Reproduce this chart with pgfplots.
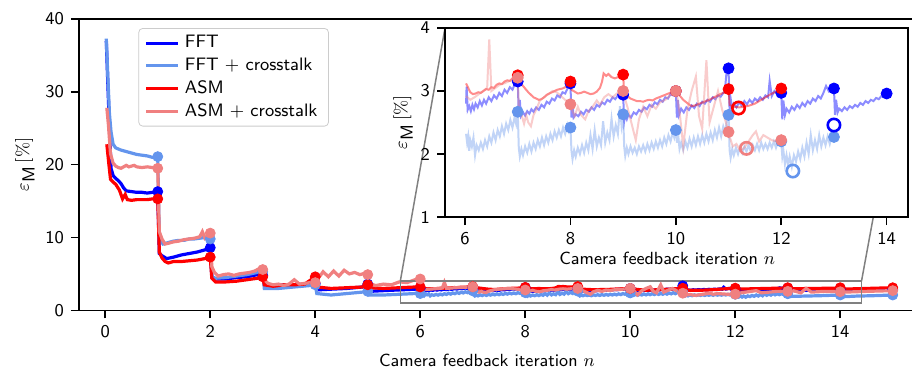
\documentclass[border=0pt]{standalone}
\usepackage{fontspec}
\usepackage{pgfplots}
\usepackage{pgfplotstable}
\pgfplotsset{compat=1.18}
\renewcommand{\familydefault}{\sfdefault}
\definecolor{fftc}{HTML}{0000FF}
\definecolor{fftx}{HTML}{6495ED}
\definecolor{asmc}{HTML}{FF0000}
\definecolor{asmx}{HTML}{F08080}

% ---------- line data ----------
\pgfplotstableread[row sep=\\]{x y\\
0.02 37.0\\ 0.05 31\\ 0.08 25\\ 0.11 19.5\\ 0.15 18.5\\ 0.2 18.1\\ 0.25 17.8\\ 0.3 17.4\\ 0.35 16.8\\ 0.4 16.4\\ 0.5 16.3\\ 0.6 16.2\\ 0.7 16.2\\ 0.8 16.1\\ 0.9 16.2\\ 1.0 16.3\\
1.03 7.8\\ 1.08 7.5\\ 1.17 7.1\\ 1.3 7.3\\ 1.45 7.6\\ 1.6 7.8\\ 1.75 8.0\\ 1.9 8.3\\ 2.0 8.6\\
2.03 4.6\\ 2.1 4.3\\ 2.3 4.3\\ 2.5 4.5\\ 2.7 4.6\\ 2.9 4.9\\ 3.0 4.8\\
3.03 3.5\\ 3.2 3.4\\ 3.4 3.5\\ 3.6 3.5\\ 3.8 3.6\\ 4.0 3.7\\
4.03 2.8\\ 4.3 2.9\\ 4.6 3.0\\ 4.9 3.2\\ 5.0 3.6\\
5.03 2.6\\ 5.3 2.7\\ 5.6 2.8\\ 5.9 2.9\\ 6.0 3.0\\
6.02 2.80\\ 6.03 3.07\\ 6.05 2.70\\ 6.08 2.76\\ 6.11 2.68\\ 6.14 2.78\\ 6.17 2.71\\ 6.2 2.80\\ 6.24 2.74\\ 6.28 2.84\\ 6.32 2.77\\ 6.36 2.86\\ 6.4 2.80\\ 6.45 2.90\\ 6.5 2.84\\ 6.55 2.93\\ 6.6 2.88\\ 6.65 2.97\\ 6.7 2.92\\ 6.75 3.02\\ 6.8 2.97\\ 6.85 3.06\\ 6.9 3.02\\ 6.95 3.12\\ 7.0 3.15\\
7.02 2.62\\ 7.04 2.86\\ 7.06 2.60\\ 7.1 2.66\\ 7.14 2.61\\ 7.18 2.68\\ 7.22 2.64\\ 7.26 2.71\\ 7.3 2.67\\ 7.35 2.74\\ 7.4 2.70\\ 7.45 2.78\\ 7.5 2.74\\ 7.55 2.83\\ 7.6 2.80\\ 7.65 2.88\\ 7.7 2.85\\ 7.75 2.93\\ 7.8 2.90\\ 7.85 2.98\\ 7.9 2.96\\ 7.95 3.05\\ 8.0 3.12\\
8.02 2.58\\ 8.04 2.80\\ 8.06 2.58\\ 8.1 2.63\\ 8.15 2.60\\ 8.2 2.67\\ 8.25 2.63\\ 8.3 2.70\\ 8.35 2.67\\ 8.4 2.74\\ 8.45 2.70\\ 8.5 2.78\\ 8.55 2.75\\ 8.6 2.82\\ 8.65 2.79\\ 8.7 2.86\\ 8.75 2.83\\ 8.8 2.90\\ 8.85 2.87\\ 8.9 2.93\\ 8.95 2.90\\ 9.0 2.94\\
9.02 2.52\\ 9.04 2.62\\ 9.07 2.55\\ 9.1 2.62\\ 9.15 2.58\\ 9.2 2.66\\ 9.25 2.63\\ 9.3 2.70\\ 9.35 2.67\\ 9.4 2.74\\ 9.45 2.71\\ 9.5 2.78\\ 9.55 2.75\\ 9.6 2.82\\ 9.65 2.79\\ 9.7 2.86\\ 9.75 2.83\\ 9.8 2.90\\ 9.85 2.88\\ 9.9 2.95\\ 9.95 2.93\\ 10.0 3.0\\
10.02 2.58\\ 10.04 2.86\\ 10.06 2.62\\ 10.1 2.72\\ 10.15 2.66\\ 10.2 2.74\\ 10.25 2.70\\ 10.3 2.77\\ 10.35 2.73\\ 10.4 2.80\\ 10.45 2.76\\ 10.5 2.83\\ 10.55 2.80\\ 10.6 2.86\\ 10.65 2.83\\ 10.7 2.90\\ 10.75 2.87\\ 10.8 2.93\\ 10.85 2.91\\ 10.9 2.97\\ 10.93 3.0\\ 10.96 3.28\\ 11.0 3.36\\
11.02 2.68\\ 11.04 2.88\\ 11.07 2.72\\ 11.1 2.80\\ 11.15 2.74\\ 11.2 2.82\\ 11.25 2.77\\ 11.3 2.84\\ 11.35 2.79\\ 11.4 2.86\\ 11.45 2.81\\ 11.5 2.88\\ 11.55 2.84\\ 11.6 2.90\\ 11.65 2.86\\ 11.7 2.93\\ 11.75 2.90\\ 11.78 3.16\\ 11.82 2.92\\ 11.87 3.00\\ 11.92 2.96\\ 11.96 3.02\\ 12.0 2.97\\
12.02 2.55\\ 12.04 2.85\\ 12.07 2.62\\ 12.1 2.72\\ 12.15 2.66\\ 12.2 2.75\\ 12.25 2.70\\ 12.3 2.78\\ 12.35 2.73\\ 12.4 2.81\\ 12.45 2.76\\ 12.5 2.84\\ 12.55 2.80\\ 12.6 2.88\\ 12.65 2.84\\ 12.7 2.92\\ 12.75 2.88\\ 12.8 2.97\\ 12.85 3.08\\ 12.9 3.00\\ 12.95 3.06\\ 13.0 3.04\\
13.02 2.62\\ 13.04 2.86\\ 13.07 2.66\\ 13.1 2.72\\ 13.15 2.68\\ 13.2 2.74\\ 13.25 2.70\\ 13.3 2.76\\ 13.35 2.73\\ 13.4 2.78\\ 13.45 2.75\\ 13.5 2.81\\ 13.55 2.78\\ 13.6 2.84\\ 13.65 2.81\\ 13.7 2.86\\ 13.75 2.84\\ 13.8 2.89\\ 13.85 2.87\\ 13.9 2.92\\ 13.95 2.91\\ 14.0 2.96\\
14.02 2.6\\ 14.2 2.65\\ 14.4 2.7\\ 14.6 2.75\\ 14.8 2.8\\ 15.0 2.9\\
}\fftline

\pgfplotstableread[row sep=\\]{x y\\
0.02 37.3\\ 0.05 32\\ 0.08 27\\ 0.11 24.5\\ 0.15 22.8\\ 0.2 22.3\\ 0.3 22.0\\ 0.4 21.8\\ 0.5 21.6\\ 0.6 21.4\\ 0.7 21.3\\ 0.8 21.2\\ 0.9 21.0\\ 1.0 21.1\\
1.03 9.7\\ 1.1 9.1\\ 1.2 9.3\\ 1.3 9.5\\ 1.4 9.6\\ 1.5 9.6\\ 1.6 9.8\\ 1.7 9.8\\ 1.8 9.9\\ 1.9 10.0\\ 2.0 9.8\\
2.03 4.6\\ 2.1 4.4\\ 2.3 4.5\\ 2.5 4.7\\ 2.7 4.9\\ 2.9 5.2\\ 3.0 5.3\\
3.03 3.0\\ 3.3 3.0\\ 3.6 3.2\\ 3.9 3.4\\ 4.0 3.5\\
4.03 2.3\\ 4.3 2.1\\ 4.6 2.3\\ 4.9 2.5\\ 5.0 2.6\\
5.03 2.1\\ 5.3 2.1\\ 5.6 2.2\\ 5.9 2.3\\ 6.0 2.3\\
6.02 2.32\\ 6.04 2.18\\ 6.06 2.28\\ 6.08 2.05\\ 6.1 2.22\\ 6.13 2.12\\ 6.16 2.26\\ 6.19 1.98\\ 6.22 2.14\\ 6.26 2.06\\ 6.3 2.18\\ 6.34 2.08\\ 6.38 2.22\\ 6.42 2.12\\ 6.46 2.28\\ 6.5 2.18\\ 6.54 2.34\\ 6.58 2.22\\ 6.62 2.38\\ 6.66 2.28\\ 6.7 2.44\\ 6.74 2.32\\ 6.78 2.48\\ 6.82 2.38\\ 6.86 2.54\\ 6.9 2.42\\ 6.94 2.58\\ 6.97 2.48\\ 7.0 2.67\\
7.02 2.10\\ 7.04 1.96\\ 7.07 2.08\\ 7.1 1.98\\ 7.14 2.12\\ 7.18 2.02\\ 7.22 2.16\\ 7.26 2.04\\ 7.3 2.18\\ 7.34 2.08\\ 7.38 2.22\\ 7.42 2.12\\ 7.46 2.26\\ 7.5 2.14\\ 7.54 2.28\\ 7.58 2.18\\ 7.62 2.32\\ 7.66 2.22\\ 7.7 2.36\\ 7.74 2.26\\ 7.78 2.38\\ 7.82 2.28\\ 7.86 2.42\\ 7.9 2.32\\ 7.94 2.46\\ 7.97 2.36\\ 8.0 2.42\\
8.02 2.05\\ 8.04 1.92\\ 8.07 2.06\\ 8.1 1.96\\ 8.14 2.10\\ 8.18 2.00\\ 8.22 2.14\\ 8.26 2.02\\ 8.3 2.18\\ 8.34 2.06\\ 8.38 2.30\\ 8.42 2.08\\ 8.46 2.38\\ 8.5 2.12\\ 8.54 2.26\\ 8.58 2.14\\ 8.62 2.52\\ 8.66 2.18\\ 8.7 2.34\\ 8.74 2.22\\ 8.78 2.56\\ 8.82 2.28\\ 8.86 2.46\\ 8.9 2.32\\ 8.94 2.76\\ 8.97 2.45\\ 9.0 2.63\\
9.02 2.12\\ 9.04 1.97\\ 9.07 2.10\\ 9.1 2.00\\ 9.14 2.12\\ 9.18 2.02\\ 9.22 2.10\\ 9.26 2.00\\ 9.3 2.12\\ 9.34 2.04\\ 9.38 2.14\\ 9.42 2.04\\ 9.46 2.16\\ 9.5 2.06\\ 9.54 2.18\\ 9.58 2.08\\ 9.62 2.20\\ 9.66 2.10\\ 9.7 2.22\\ 9.74 2.12\\ 9.78 2.26\\ 9.82 2.16\\ 9.86 2.30\\ 9.9 2.20\\ 9.94 2.34\\ 9.97 2.26\\ 10.0 2.38\\
10.02 2.18\\ 10.04 2.34\\ 10.07 2.08\\ 10.1 2.18\\ 10.14 2.06\\ 10.18 2.20\\ 10.22 2.10\\ 10.26 2.24\\ 10.3 2.12\\ 10.34 2.26\\ 10.38 2.14\\ 10.42 2.28\\ 10.46 2.16\\ 10.5 2.30\\ 10.54 2.18\\ 10.58 2.32\\ 10.62 2.20\\ 10.66 2.34\\ 10.7 2.22\\ 10.74 2.38\\ 10.78 2.26\\ 10.82 2.42\\ 10.86 2.28\\ 10.9 2.44\\ 10.94 2.34\\ 10.97 2.56\\ 11.0 2.62\\
11.02 2.06\\ 11.04 1.94\\ 11.07 2.08\\ 11.1 1.98\\ 11.14 2.10\\ 11.18 2.00\\ 11.22 2.12\\ 11.26 2.02\\ 11.3 2.12\\ 11.34 2.04\\ 11.38 2.14\\ 11.42 2.04\\ 11.46 2.14\\ 11.5 2.06\\ 11.54 2.16\\ 11.58 2.06\\ 11.62 2.18\\ 11.66 2.08\\ 11.7 2.16\\ 11.74 2.08\\ 11.78 2.18\\ 11.82 2.10\\ 11.86 2.20\\ 11.9 2.10\\ 11.94 2.20\\ 12.0 2.20\\
12.02 1.96\\ 12.04 2.06\\ 12.07 1.84\\ 12.1 1.98\\ 12.13 1.82\\ 12.16 1.96\\ 12.2 1.80\\ 12.24 1.98\\ 12.28 1.88\\ 12.32 2.04\\ 12.36 1.92\\ 12.4 2.10\\ 12.44 1.96\\ 12.48 2.18\\ 12.52 2.00\\ 12.56 2.30\\ 12.6 2.06\\ 12.64 2.22\\ 12.68 2.08\\ 12.72 2.30\\ 12.76 2.12\\ 12.8 2.26\\ 12.84 2.14\\ 12.88 2.28\\ 12.92 2.16\\ 12.96 2.30\\ 13.0 2.27\\
13.02 1.9\\ 13.3 1.95\\ 13.6 2.0\\ 14.0 2.1\\ 14.02 1.85\\ 14.3 1.95\\ 14.6 2.0\\ 15.0 2.1\\
}\fftxline

\pgfplotstableread[row sep=\\]{x y\\
0.03 22.8\\ 0.07 20.0\\ 0.1 18.0\\ 0.15 17.6\\ 0.2 17.3\\ 0.27 16.5\\ 0.33 15.3\\ 0.38 15.9\\ 0.42 15.2\\ 0.5 15.1\\ 0.6 15.2\\ 0.7 15.2\\ 0.8 15.2\\ 0.9 15.3\\ 1.0 15.3\\
1.03 8.0\\ 1.08 7.2\\ 1.14 6.7\\ 1.2 6.5\\ 1.3 6.7\\ 1.45 6.7\\ 1.6 6.8\\ 1.75 6.9\\ 1.9 7.1\\ 2.0 7.3\\
2.03 4.4\\ 2.1 3.9\\ 2.3 3.9\\ 2.5 4.0\\ 2.7 4.2\\ 2.9 4.4\\ 3.0 4.6\\
3.03 3.5\\ 3.2 3.3\\ 3.4 3.5\\ 3.6 3.5\\ 3.8 3.6\\ 4.0 4.6\\
4.03 3.2\\ 4.3 3.0\\ 4.6 3.1\\ 4.9 3.2\\ 5.0 3.5\\
5.03 3.1\\ 5.3 3.0\\ 5.6 3.1\\ 5.9 3.2\\ 6.0 3.2\\
6.02 3.12\\ 6.06 3.05\\ 6.1 2.98\\ 6.15 2.95\\ 6.2 2.96\\ 6.25 2.98\\ 6.3 2.97\\ 6.35 3.0\\ 6.4 3.03\\ 6.45 3.02\\ 6.5 3.06\\ 6.55 3.05\\ 6.6 3.1\\ 6.65 3.12\\ 6.7 3.11\\ 6.75 3.15\\ 6.8 3.17\\ 6.85 3.16\\ 6.9 3.2\\ 6.95 3.22\\ 7.0 3.25\\
7.02 3.17\\ 7.08 3.1\\ 7.14 3.04\\ 7.2 2.98\\ 7.25 2.94\\ 7.3 2.9\\ 7.35 2.88\\ 7.4 2.86\\ 7.45 2.87\\ 7.5 2.9\\ 7.55 2.94\\ 7.6 2.96\\ 7.65 2.98\\ 7.7 3.0\\ 7.75 3.02\\ 7.8 3.03\\ 7.85 3.04\\ 7.9 3.06\\ 7.95 3.1\\ 8.0 3.15\\
8.02 3.02\\ 8.08 2.99\\ 8.14 2.96\\ 8.2 2.97\\ 8.26 2.99\\ 8.32 2.97\\ 8.38 2.95\\ 8.44 2.96\\ 8.5 2.99\\ 8.56 3.05\\ 8.6 3.15\\ 8.63 3.28\\ 8.68 3.24\\ 8.72 3.27\\ 8.78 3.22\\ 8.84 3.2\\ 8.9 3.22\\ 8.95 3.24\\ 9.0 3.26\\
9.02 2.95\\ 9.08 2.92\\ 9.14 2.88\\ 9.2 2.86\\ 9.26 2.84\\ 9.32 2.84\\ 9.38 2.83\\ 9.44 2.85\\ 9.5 2.86\\ 9.56 2.85\\ 9.62 2.88\\ 9.68 2.9\\ 9.74 2.92\\ 9.8 2.94\\ 9.86 2.96\\ 9.92 2.98\\ 10.0 3.0\\
10.02 2.98\\ 10.08 2.92\\ 10.14 2.86\\ 10.2 2.82\\ 10.26 2.78\\ 10.3 2.76\\ 10.36 2.77\\ 10.42 2.79\\ 10.48 2.81\\ 10.54 2.83\\ 10.6 2.85\\ 10.66 2.87\\ 10.72 2.9\\ 10.78 2.92\\ 10.84 2.95\\ 10.9 2.97\\ 10.95 2.99\\ 11.0 3.03\\
11.02 2.78\\ 11.1 2.75\\ 11.2 2.74\\ 11.3 2.75\\ 11.4 2.77\\ 11.5 2.8\\ 11.6 2.85\\ 11.7 2.9\\ 11.8 2.95\\ 11.9 2.99\\ 12.0 3.04\\
12.02 2.9\\ 12.3 2.95\\ 12.6 3.0\\ 12.9 3.05\\ 13.0 3.1\\ 13.02 2.95\\ 13.5 3.0\\ 14.0 3.05\\ 14.02 2.9\\ 14.5 3.0\\ 15.0 3.1\\
}\asmline

\pgfplotstableread[row sep=\\]{x y\\
0.03 27.8\\ 0.06 25.5\\ 0.1 21.5\\ 0.15 20.2\\ 0.2 19.8\\ 0.25 19.6\\ 0.3 19.5\\ 0.35 19.7\\ 0.4 19.9\\ 0.45 19.7\\ 0.5 19.8\\ 0.55 19.9\\ 0.6 19.7\\ 0.7 19.6\\ 0.8 19.7\\ 0.9 19.6\\ 1.0 19.5\\
1.03 10.8\\ 1.08 9.8\\ 1.14 9.1\\ 1.2 9.2\\ 1.3 9.4\\ 1.4 9.5\\ 1.5 9.7\\ 1.6 9.8\\ 1.7 9.9\\ 1.8 10.1\\ 1.85 10.8\\ 1.9 9.9\\ 1.95 10.2\\ 2.0 10.6\\
2.03 6.0\\ 2.08 5.2\\ 2.15 4.7\\ 2.25 4.9\\ 2.35 5.0\\ 2.45 4.8\\ 2.55 5.0\\ 2.65 5.1\\ 2.75 5.2\\ 2.85 5.4\\ 2.95 5.8\\ 3.0 5.6\\
3.03 4.2\\ 3.1 3.7\\ 3.2 3.5\\ 3.3 3.6\\ 3.4 3.4\\ 3.5 3.6\\ 3.6 4.2\\ 3.7 3.6\\ 3.8 3.7\\ 3.9 3.8\\ 4.0 3.8\\
4.03 4.2\\ 4.1 4.8\\ 4.15 5.3\\ 4.25 4.6\\ 4.35 5.4\\ 4.45 4.7\\ 4.55 5.5\\ 4.65 5.0\\ 4.75 5.2\\ 4.85 4.9\\ 4.95 5.1\\ 5.0 4.9\\
5.03 3.7\\ 5.15 3.4\\ 5.3 3.6\\ 5.45 3.5\\ 5.6 3.9\\ 5.75 3.8\\ 5.9 4.2\\ 6.0 4.3\\
6.02 2.92\\ 6.1 2.86\\ 6.18 2.9\\ 6.26 2.95\\ 6.34 3.0\\ 6.42 3.05\\ 6.46 3.82\\ 6.5 3.0\\ 6.58 3.05\\ 6.66 3.1\\ 6.74 3.12\\ 6.82 3.15\\ 6.9 3.18\\ 7.0 3.21\\
7.02 2.75\\ 7.08 2.6\\ 7.12 2.48\\ 7.16 2.62\\ 7.2 2.5\\ 7.25 2.44\\ 7.3 2.62\\ 7.36 2.72\\ 7.42 2.85\\ 7.5 2.9\\ 7.58 2.95\\ 7.66 3.0\\ 7.74 2.98\\ 7.82 2.92\\ 7.9 2.86\\ 8.0 2.79\\
8.02 2.72\\ 8.08 2.6\\ 8.14 2.75\\ 8.2 2.62\\ 8.28 2.55\\ 8.34 2.68\\ 8.42 2.75\\ 8.5 2.85\\ 8.56 2.78\\ 8.64 2.9\\ 8.72 2.95\\ 8.8 2.9\\ 8.88 2.96\\ 9.0 3.0\\
9.02 2.92\\ 9.08 2.75\\ 9.14 2.55\\ 9.2 2.35\\ 9.24 2.22\\ 9.3 2.55\\ 9.38 2.75\\ 9.46 2.6\\ 9.54 2.78\\ 9.62 2.72\\ 9.7 2.82\\ 9.8 2.86\\ 9.9 2.94\\ 10.0 3.0\\
10.02 2.95\\ 10.08 2.6\\ 10.14 2.12\\ 10.22 2.7\\ 10.3 3.0\\ 10.38 3.23\\ 10.44 2.6\\ 10.5 2.4\\ 10.58 3.49\\ 10.64 2.5\\ 10.72 2.75\\ 10.8 3.0\\ 10.88 2.7\\ 10.95 2.5\\ 11.0 2.35\\
11.02 2.28\\ 11.08 2.12\\ 11.15 2.16\\ 11.22 2.05\\ 11.3 2.1\\ 11.38 2.2\\ 11.46 2.3\\ 11.52 2.36\\ 11.58 2.2\\ 11.66 2.3\\ 11.74 2.26\\ 11.82 2.22\\ 11.9 2.2\\ 12.0 2.22\\
12.02 2.3\\ 12.2 2.5\\ 12.4 2.7\\ 12.5 2.4\\ 12.65 2.5\\ 12.8 2.6\\ 13.0 2.6\\ 13.1 2.7\\ 13.25 2.4\\ 13.35 3.0\\ 13.45 2.5\\ 13.7 2.6\\ 14.0 2.55\\ 14.1 2.5\\ 14.5 2.6\\ 15.0 2.7\\
}\asmxline

% ---------- end-of-iteration values ----------
\pgfplotstableread[row sep=\\]{x y\\ 1 16.3\\ 2 8.6\\ 3 4.8\\ 4 3.7\\ 5 3.6\\ 6 3.0\\ 7 3.15\\ 8 3.12\\ 9 2.94\\ 10 3.0\\ 11 3.36\\ 12 2.97\\ 13 3.04\\ 14 2.96\\ 15 2.9\\}\fftdot
\pgfplotstableread[row sep=\\]{x y\\ 1 21.1\\ 2 9.8\\ 3 5.3\\ 4 3.5\\ 5 2.6\\ 6 2.3\\ 7 2.67\\ 8 2.42\\ 9 2.63\\ 10 2.38\\ 11 2.62\\ 12 2.2\\ 13 2.27\\ 14 2.1\\ 15 2.1\\}\fftxdot
\pgfplotstableread[row sep=\\]{x y\\ 1 15.3\\ 2 7.3\\ 3 4.6\\ 4 4.6\\ 5 3.5\\ 6 3.2\\ 7 3.25\\ 8 3.15\\ 9 3.26\\ 10 3.0\\ 11 3.03\\ 12 3.04\\ 13 3.1\\ 14 3.1\\ 15 3.1\\}\asmdot
\pgfplotstableread[row sep=\\]{x y\\ 1 19.5\\ 2 10.6\\ 3 5.6\\ 4 3.8\\ 5 4.9\\ 6 4.3\\ 7 3.21\\ 8 2.79\\ 9 3.0\\ 10 3.0\\ 11 2.35\\ 12 2.22\\ 13 2.6\\ 14 2.55\\ 15 2.7\\}\asmxdot

\pgfplotsset{
  myax/.style={
    scale only axis, tick align=outside, tick pos=left,
    major tick length=4pt,
    every tick/.style={black, line width=0.8pt},
    axis line style={line width=0.8pt},
    ticklabel style={font=\fontsize{9}{10.5}\selectfont},
    label style={font=\fontsize{8.8}{10}\selectfont},
    /pgf/number format/assume math mode=true,
  },
}

\begin{document}
\begin{tikzpicture}
\begin{axis}[myax,
  at={(39.5pt,30.35pt)}, anchor=south west,
  width=418pt, height=145.65pt,
  xmin=-0.5, xmax=15.424, ymin=0, ymax=40,
  xtick={0,2,...,14}, ytick={0,10,...,40},
  xlabel={Camera feedback iteration $n$},
  ylabel={$\varepsilon_{\textsf{M}}\,[\%]$},
  xlabel style={at={(axis description cs:0.488,-0.1706)}, anchor=center},
  ylabel style={at={(axis description cs:-0.0646,0.5)}, anchor=center},
  legend cell align=left,
  legend style={at={(0.071,0.969)}, anchor=north west,
    font=\fontsize{9}{10.5}\selectfont,
    draw=black!20, rounded corners=2pt, fill=white, fill opacity=0.8, text opacity=1,
    inner xsep=3pt, inner ysep=1.5pt, row sep=-0.5pt,
    nodes={inner xsep=2.5pt}},
  legend image code/.code={\draw[#1] (0pt,0pt) -- (16pt,0pt);},
]
\addplot[fftc, line width=1.6pt] table[x=x,y=y] {\fftline};
\addlegendentry{FFT}
\addplot[fftx, line width=1.6pt] table[x=x,y=y] {\fftxline};
\addlegendentry{FFT $+$ crosstalk}
\addplot[asmc, line width=1.6pt] table[x=x,y=y] {\asmline};
\addlegendentry{ASM}
\addplot[asmx, line width=1.6pt] table[x=x,y=y] {\asmxline};
\addlegendentry{ASM $+$ crosstalk}
\addplot[fftc, only marks, mark=*, mark size=2.5pt, mark options={draw=none, fill=fftc}, forget plot] table[x=x,y=y] {\fftdot};
\addplot[fftx, only marks, mark=*, mark size=2.5pt, mark options={draw=none, fill=fftx}, forget plot] table[x=x,y=y] {\fftxdot};
\addplot[asmc, only marks, mark=*, mark size=2.5pt, mark options={draw=none, fill=asmc}, forget plot] table[x=x,y=y] {\asmdot};
\addplot[asmx, only marks, mark=*, mark size=2.5pt, mark options={draw=none, fill=asmx}, forget plot] table[x=x,y=y] {\asmxdot};
\draw[black!50, line width=0.75pt] (axis cs:5.62,1) rectangle (axis cs:14.405,4);
\coordinate (rTL) at (axis cs:5.62,4);
\coordinate (rTR) at (axis cs:14.405,4);
\end{axis}
\draw[black!50, line width=0.75pt] (rTL) -- (222.5pt,171.5pt);
\draw[black!50, line width=0.75pt] (rTR) -- (454pt,171.5pt);
\begin{axis}[myax,
  at={(222.5pt,77pt)}, anchor=south west,
  width=231.5pt, height=94.5pt,
  xmin=5.62, xmax=14.405, ymin=1, ymax=4,
  xtick={6,8,...,14}, ytick={1,2,3,4},
  axis background/.style={fill=white},
  xlabel={Camera feedback iteration $n$},
  ylabel={$\varepsilon_{\textsf{M}}\,[\%]$},
  xlabel style={at={(axis description cs:0.48,-0.217)}, anchor=center},
  ylabel style={at={(axis description cs:-0.0907,0.5)}, anchor=center},
]
\addplot[fftc, line width=1pt, opacity=0.45, restrict x to domain=6.01:14.001] table[x=x,y=y] {\fftline};
\addplot[fftx, line width=1pt, opacity=0.4, restrict x to domain=6.01:13.001] table[x=x,y=y] {\fftxline};
\addplot[asmc, line width=1pt, opacity=0.45, restrict x to domain=6.01:12.001] table[x=x,y=y] {\asmline};
\addplot[asmx, line width=1pt, opacity=0.4, restrict x to domain=6.01:12.001] table[x=x,y=y] {\asmxline};
\addplot[fftc, only marks, mark=*, mark size=2.75pt, mark options={draw=none, fill=fftc}, restrict x to domain=6.5:14.5] table[x=x,y=y] {\fftdot};
\addplot[fftx, only marks, mark=*, mark size=2.75pt, mark options={draw=none, fill=fftx}, restrict x to domain=6.5:13.5] table[x=x,y=y] {\fftxdot};
\addplot[asmc, only marks, mark=*, mark size=2.75pt, mark options={draw=none, fill=asmc}, restrict x to domain=6.5:12.5] table[x=x,y=y] {\asmdot};
\addplot[asmx, only marks, mark=*, mark size=2.75pt, mark options={draw=none, fill=asmx}, restrict x to domain=6.5:12.5] table[x=x,y=y] {\asmxdot};
\addplot[asmc, only marks, mark=o, mark size=3.1pt, mark options={draw=asmc, line width=1.3pt}] coordinates {(11.19,2.73)};
\addplot[asmx, only marks, mark=o, mark size=3.1pt, mark options={draw=asmx, line width=1.3pt}] coordinates {(11.34,2.09)};
\addplot[fftx, only marks, mark=o, mark size=3.1pt, mark options={draw=fftx, line width=1.3pt}] coordinates {(12.22,1.73)};
\addplot[fftc, only marks, mark=o, mark size=3.1pt, mark options={draw=fftc, line width=1.3pt}] coordinates {(13.0,2.46)};
\end{axis}
\pgfresetboundingbox
\path (0pt,0pt) rectangle (456pt,185.5pt);
\end{tikzpicture}
\end{document}
